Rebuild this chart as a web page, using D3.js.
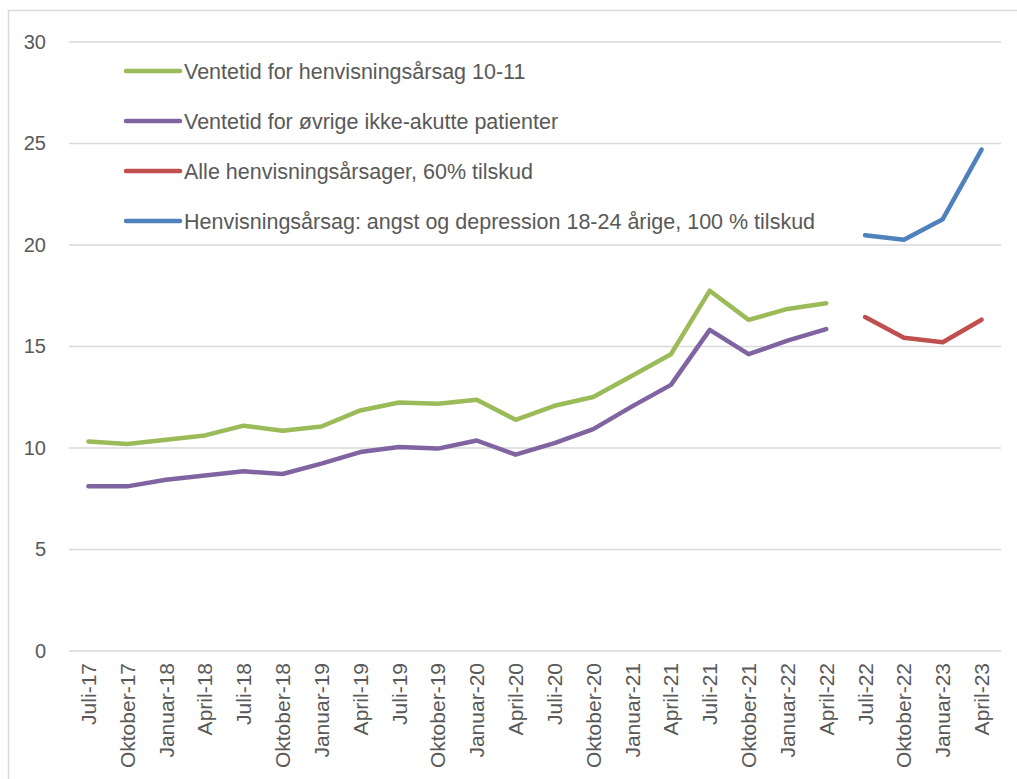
<!DOCTYPE html>
<html>
<head>
<meta charset="utf-8">
<script src="https://cdn.jsdelivr.net/npm/d3@7"></script>
<style>
  html, body { margin: 0; padding: 0; background: #fff; }
  svg { display: block; font-family: "Liberation Sans", Arial, sans-serif; }
</style>
</head>
<body>
<svg id="chart" width="1017" height="779"></svg>
<script>
// quarterly periods
const periods = [
  "Juli-17", "Oktober-17", "Januar-18", "April-18", "Juli-18", "Oktober-18",
  "Januar-19", "April-19", "Juli-19", "Oktober-19", "Januar-20", "April-20",
  "Juli-20", "Oktober-20", "Januar-21", "April-21", "Juli-21", "Oktober-21",
  "Januar-22", "April-22", "Juli-22", "Oktober-22", "Januar-23", "April-23"
];

// null = no value for that period
const ventetid1011 = [10.32, 10.2, 10.41, 10.62, 11.1, 10.85, 11.06, 11.85, 12.24, 12.18, 12.38, 11.39,
  12.08, 12.51, 13.56, 14.62, 17.75, 16.31, 16.85, 17.13, null, null, null, null];
const ventetidOvrige = [8.11, 8.11, 8.44, 8.65, 8.85, 8.72, 9.23, 9.8, 10.05, 9.97, 10.37, 9.67,
  10.24, 10.93, 12.05, 13.11, 15.82, 14.62, 15.29, 15.86, null, null, null, null];
const alle60 = [null, null, null, null, null, null, null, null, null, null, null, null,
  null, null, null, null, null, null, null, null, 16.45, 15.43, 15.21, 16.32];
const angst100 = [null, null, null, null, null, null, null, null, null, null, null, null,
  null, null, null, null, null, null, null, null, 20.48, 20.26, 21.27, 24.7];

const seriesNames = [
  "Ventetid for henvisningsårsag 10-11",
  "Ventetid for øvrige ikke-akutte patienter",
  "Alle henvisningsårsager, 60% tilskud",
  "Henvisningsårsag: angst og depression 18-24 årige,  100 % tilskud"
];
const seriesColors = ["#9bbb59", "#8064a2", "#c0504d", "#4f81bd"];
const yTicks = [0, 5, 10, 15, 20, 25, 30];

const series = [ventetid1011, ventetidOvrige, alle60, angst100].map((vals, i) => ({
  name: seriesNames[i], color: seriesColors[i], values: vals
}));

const svg = d3.select("#chart");
const margin = { left: 69, right: 1001, top: 42, bottom: 651 };
const textColor = "#595959";
const fontFam = "Liberation Sans, Arial, sans-serif";

// outer frame
svg.append("path")
  .attr("d", "M8.5,779 L8.5,10.5 L1017,10.5")
  .attr("fill", "none")
  .attr("stroke", "#d9d9d9")
  .attr("stroke-width", 1.5);

const x = d3.scaleBand().domain(periods).range([margin.left, margin.right]);
const y = d3.scaleLinear().domain([0, 30]).range([margin.bottom, margin.top]);

// gridlines
svg.append("g")
  .selectAll("line")
  .data(yTicks)
  .join("line")
  .attr("x1", margin.left)
  .attr("x2", margin.right)
  .attr("y1", (d) => y(d))
  .attr("y2", (d) => y(d))
  .attr("stroke", "#d9d9d9")
  .attr("stroke-width", 1.5);

// y axis labels
const yAxis = svg.append("g")
  .attr("transform", `translate(${margin.left},0)`)
  .call(d3.axisLeft(y).tickValues(yTicks).tickSize(0).tickPadding(23));
yAxis.select(".domain").remove();
yAxis.selectAll("text")
  .attr("fill", textColor)
  .style("font-size", "20px")
  .style("font-family", fontFam);

// x axis labels
const xAxis = svg.append("g")
  .attr("transform", `translate(0,${margin.bottom})`)
  .call(d3.axisBottom(x).tickSize(0).tickPadding(0));
xAxis.select(".domain").remove();
xAxis.selectAll("text")
  .attr("fill", textColor)
  .style("font-size", "21px")
  .style("font-family", fontFam)
  .attr("text-anchor", "end")
  .attr("transform", "rotate(-90)")
  .attr("x", -12)
  .attr("y", 0)
  .attr("dy", "0.36em");

// lines
const line = d3.line()
  .defined((d) => d != null)
  .x((d, i) => x(periods[i]) + x.bandwidth() / 2)
  .y((d) => y(d));

svg.append("g")
  .selectAll("path")
  .data(series)
  .join("path")
  .attr("d", (s) => line(s.values))
  .attr("fill", "none")
  .attr("stroke", (s) => s.color)
  .attr("stroke-width", 4.5)
  .attr("stroke-linecap", "round")
  .attr("stroke-linejoin", "round");

// legend
const legend = svg.append("g")
  .selectAll("g")
  .data(series)
  .join("g")
  .attr("transform", (s, i) => `translate(126,${71 + i * 50})`);
legend.append("line")
  .attr("x1", 0).attr("x2", 54)
  .attr("stroke", (s) => s.color)
  .attr("stroke-width", 4.5)
  .attr("stroke-linecap", "round");
legend.append("text")
  .attr("x", 58)
  .attr("dy", "0.36em")
  .attr("fill", textColor)
  .style("font-size", "21.5px")
  .style("font-family", fontFam)
  .text((s) => s.name);
</script>
</body>
</html>
